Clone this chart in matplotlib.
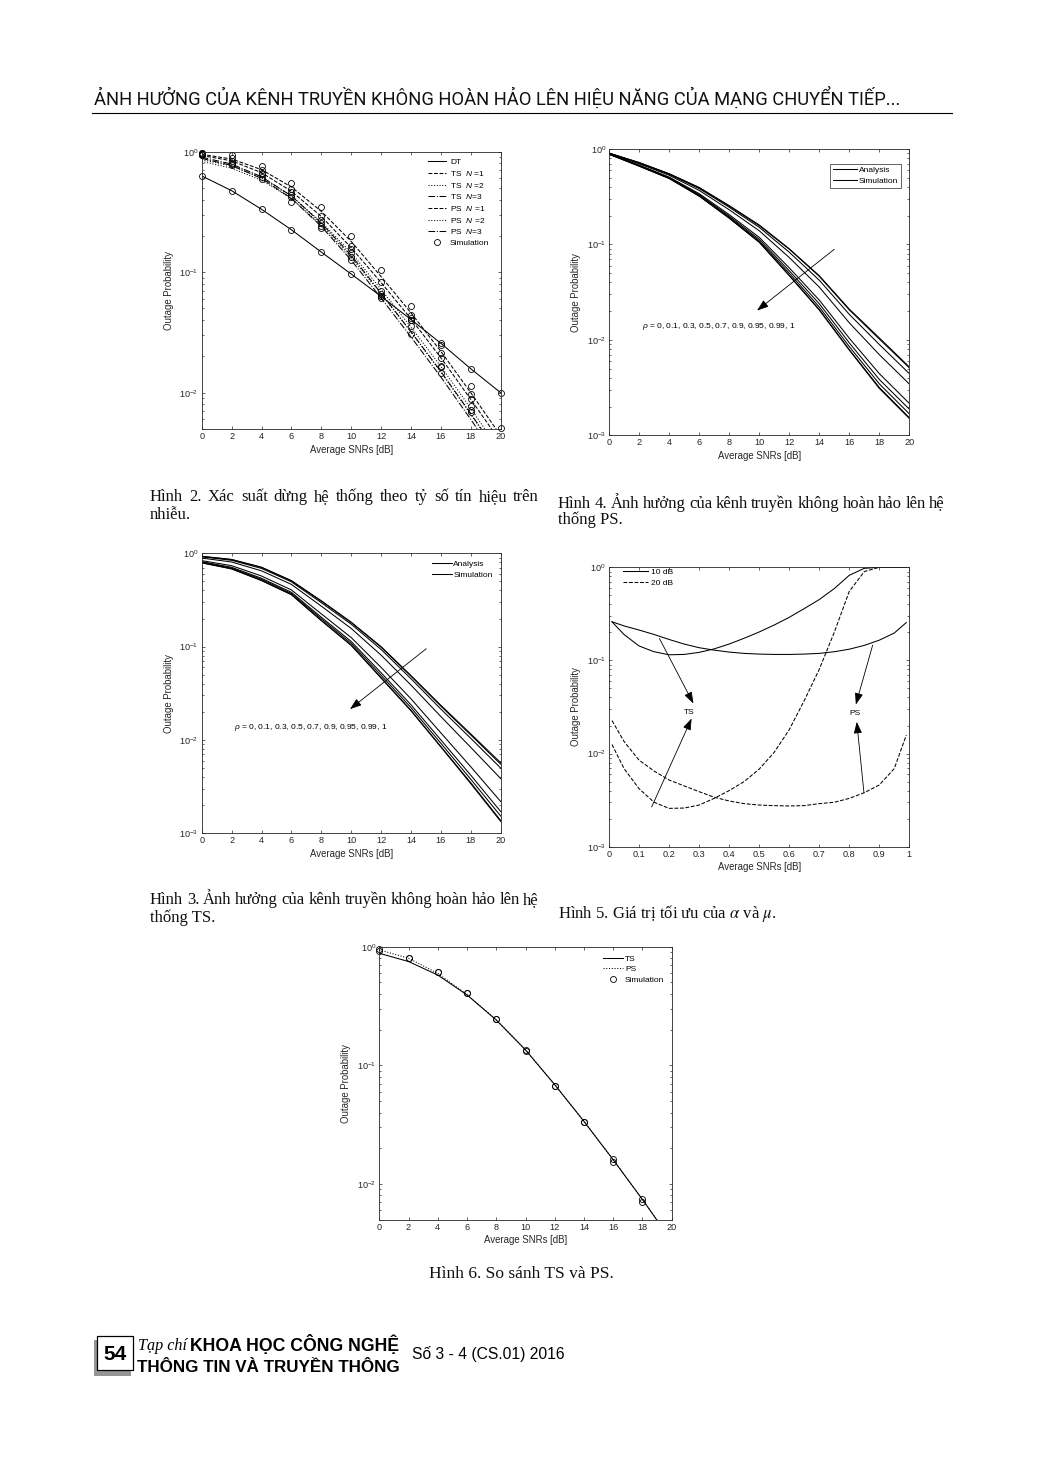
import matplotlib
matplotlib.use("Agg")
import matplotlib.pyplot as plt
import matplotlib.ticker as mticker
from matplotlib import font_manager
from matplotlib.font_manager import FontProperties
from matplotlib.ft2font import FT2Font
from matplotlib.patches import Rectangle
from matplotlib.lines import Line2D

W, H = 1047, 1460

# ---------------- values ----------------
snr = [0, 2, 4, 6, 8, 10, 12, 14, 16, 18, 20]
snr_sim = [0, 2, 4, 6, 8, 10, 12, 14, 16, 18]

# Hinh 2: outage vs SNR
dt_out = [0.63, 0.475, 0.333, 0.225, 0.147, 0.0966, 0.063, 0.0405, 0.0257, 0.0158, 0.010]
ts1_out = [0.95, 0.87, 0.71, 0.51, 0.32, 0.18, 0.092, 0.046, 0.022, 0.0100, 0.0044]
ts2_out = [0.86, 0.76, 0.61, 0.43, 0.26, 0.145, 0.072, 0.035, 0.0165, 0.0074, 0.0032]
ts3_out = [0.90, 0.79, 0.62, 0.43, 0.255, 0.138, 0.067, 0.032, 0.0150, 0.0067, 0.0029]
ps1_out = [0.93, 0.84, 0.67, 0.47, 0.29, 0.16, 0.082, 0.041, 0.0195, 0.0088, 0.0039]
ps2_out = [0.83, 0.73, 0.58, 0.41, 0.245, 0.133, 0.066, 0.032, 0.0148, 0.0066, 0.0029]
ps3_out = [0.88, 0.77, 0.60, 0.41, 0.24, 0.126, 0.061, 0.029, 0.0135, 0.0060, 0.0026]
sim_ts1 = [0.98, 0.93, 0.76, 0.55, 0.35, 0.198, 0.104, 0.052, 0.025, 0.0113, 0.0051]
sim_ps1 = [0.97, 0.88, 0.705, 0.49, 0.29, 0.166, 0.083, 0.044, 0.0215, 0.0097]
sim_ts2 = [0.96, 0.84, 0.67, 0.46, 0.27, 0.155, 0.070, 0.042, 0.0195, 0.0088]
sim_ts3 = [0.95, 0.81, 0.65, 0.44, 0.255, 0.145, 0.066, 0.040, 0.0166, 0.0078]
sim_ps2 = [0.94, 0.79, 0.62, 0.42, 0.242, 0.135, 0.064, 0.036, 0.0164, 0.0072]
sim_ps3 = [0.93, 0.78, 0.59, 0.385, 0.232, 0.127, 0.061, 0.031, 0.0146, 0.0069]

# Hinh 4: PS, rho = 0 ... 1
ps_rho_0 = [0.905, 0.72, 0.55, 0.395, 0.255, 0.16, 0.09, 0.047, 0.021, 0.0105, 0.0052]
ps_rho_01 = [0.904, 0.719, 0.549, 0.392, 0.251, 0.157, 0.089, 0.0463, 0.0206, 0.0102, 0.0051]
ps_rho_03 = [0.90, 0.712, 0.542, 0.384, 0.245, 0.151, 0.0828, 0.0422, 0.0185, 0.00895, 0.00443]
ps_rho_05 = [0.896, 0.70, 0.53, 0.368, 0.2305, 0.139, 0.0728, 0.0357, 0.0151, 0.0070, 0.00345]
ps_rho_07 = [0.886, 0.678, 0.507, 0.340, 0.205, 0.1185, 0.0568, 0.0261, 0.0104, 0.00443, 0.00216]
ps_rho_09 = [0.883, 0.671, 0.50, 0.332, 0.198, 0.113, 0.0529, 0.0239, 0.0093, 0.00385, 0.00188]
ps_rho_095 = [0.881, 0.666, 0.495, 0.326, 0.193, 0.1088, 0.0499, 0.0221, 0.0085, 0.00346, 0.00168]
ps_rho_099 = [0.880, 0.661, 0.491, 0.321, 0.189, 0.106, 0.0475, 0.0208, 0.0079, 0.00317, 0.00153]
ps_rho_1 = [0.88, 0.66, 0.49, 0.32, 0.188, 0.105, 0.047, 0.0205, 0.0078, 0.0031, 0.0015]

# Hinh 3: TS, rho = 0 ... 1
ts_rho_0 = [0.93, 0.86, 0.71, 0.51, 0.31, 0.183, 0.10, 0.049, 0.0235, 0.0116, 0.0057]
ts_rho_01 = [0.927, 0.856, 0.705, 0.506, 0.307, 0.181, 0.0985, 0.0482, 0.023, 0.0113, 0.0055]
ts_rho_03 = [0.916, 0.841, 0.689, 0.495, 0.296, 0.174, 0.0933, 0.0453, 0.0214, 0.0104, 0.0050]
ts_rho_05 = [0.889, 0.807, 0.649, 0.4645, 0.2716, 0.1566, 0.0811, 0.0387, 0.0178, 0.00832, 0.00386]
ts_rho_07 = [0.835, 0.737, 0.571, 0.405, 0.2244, 0.1252, 0.0599, 0.0276, 0.0119, 0.00516, 0.00219]
ts_rho_09 = [0.813, 0.708, 0.540, 0.382, 0.2065, 0.1136, 0.0525, 0.0238, 0.0100, 0.00419, 0.00171]
ts_rho_095 = [0.802, 0.695, 0.526, 0.371, 0.1987, 0.1085, 0.0493, 0.0222, 0.0092, 0.00379, 0.00153]
ts_rho_099 = [0.793, 0.683, 0.513, 0.362, 0.191, 0.104, 0.0466, 0.0208, 0.0085, 0.00348, 0.00137]
ts_rho_1 = [0.79, 0.68, 0.51, 0.36, 0.19, 0.103, 0.046, 0.0205, 0.0084, 0.0034, 0.00134]

rho_text = r"$\rho$ = 0, 0.1, 0.3, 0.5, 0.7, 0.9, 0.95, 0.99, 1"

# Hinh 5: optimum alpha / mu
alpha_pts = [0.01, 0.05, 0.1, 0.15, 0.2, 0.25, 0.3, 0.35, 0.4, 0.45, 0.5,
             0.55, 0.6, 0.65, 0.7, 0.75, 0.8, 0.85, 0.9, 0.95, 0.99]
ts_10db = [0.26, 0.19, 0.143, 0.124, 0.115, 0.116, 0.122, 0.133, 0.15, 0.173, 0.202,
           0.24, 0.29, 0.36, 0.45, 0.59, 0.82, 0.975, 1.0, 1.0, 1.0]
ps_10db = [0.26, 0.235, 0.212, 0.19, 0.168, 0.15, 0.137, 0.129, 0.123, 0.119, 0.117,
           0.116, 0.116, 0.117, 0.119, 0.124, 0.132, 0.145, 0.165, 0.197, 0.255]
ts_20db = [0.0125, 0.0069, 0.0042, 0.0030, 0.00258, 0.0026, 0.0028, 0.0033, 0.0040, 0.0050, 0.0068,
           0.0103, 0.0180, 0.037, 0.080, 0.20, 0.55, 0.90, 1.0, 1.0, 1.0]
ps_20db = [0.0226, 0.0135, 0.0085, 0.0065, 0.0052, 0.0045, 0.0039, 0.0034, 0.0031, 0.0029, 0.0028,
           0.00276, 0.00274, 0.00276, 0.0029, 0.0030, 0.0033, 0.0038, 0.0046, 0.0069, 0.0158]
alpha_ticks = [0, 0.1, 0.2, 0.3, 0.4, 0.5, 0.6, 0.7, 0.8, 0.9, 1]
alpha_ticklabels = ["0", "0.1", "0.2", "0.3", "0.4", "0.5", "0.6", "0.7", "0.8", "0.9", "1"]

# Hinh 6: TS vs PS
ts_cmp = [0.88, 0.75, 0.577, 0.392, 0.241, 0.135, 0.0687, 0.0337, 0.016, 0.0074, 0.0033]
ps_cmp = [0.94, 0.80, 0.596, 0.395, 0.242, 0.135, 0.0687, 0.0337, 0.016, 0.0074, 0.0033]
sim_ts_cmp = [0.955, 0.81, 0.615, 0.41, 0.245, 0.133, 0.067, 0.033, 0.0162, 0.0075]
sim_ps_cmp = [0.92, 0.80, 0.61, 0.405, 0.244, 0.134, 0.0675, 0.0335, 0.0152, 0.0071]

# page text
header = "ẢNH HƯỞNG CỦA KÊNH TRUYỀN KHÔNG HOÀN HẢO LÊN HIỆU NĂNG CỦA MẠNG CHUYỂN TIẾP..."
cap2 = ["Hình 2. Xác suất dừng hệ thống theo tỷ số tín hiệu trên", "nhiễu."]
cap4 = ["Hình 4. Ảnh hưởng của kênh truyền không hoàn hảo lên hệ", "thống PS."]
cap3 = ["Hình 3. Ảnh hưởng của kênh truyền không hoàn hảo lên hệ", "thống TS."]
cap5 = r"Hình 5. Giá trị tối ưu của $\alpha$ và $\mu$."
cap6 = "Hình 6. So sánh TS và PS."

# ---------------- style ----------------
INK = "#262626"
plt.rcParams.update({
    "font.family": ["Liberation Sans", "DejaVu Sans"],
    "font.size": 6.5,
    "mathtext.fontset": "custom",
    "mathtext.rm": "Liberation Sans",
    "mathtext.it": "Liberation Sans:italic",
    "mathtext.bf": "Liberation Sans:bold",
    "axes.linewidth": 0.6,
    "axes.edgecolor": INK,
    "axes.labelcolor": INK,
    "xtick.color": INK,
    "ytick.color": INK,
})
SERIF = ["Liberation Serif", "DejaVu Serif"]

fig = plt.figure(figsize=(W / 100, H / 100), dpi=100)
renderer = fig.canvas.get_renderer()


def fx(x):
    return x / W


def fy(y):
    return 1 - y / H


def make_axes(box, xlim, ylim, xticks, xticklabels=None):
    l, t, r, b = box
    ax = fig.add_axes([l / W, 1 - b / H, (r - l) / W, (b - t) / H])
    ax.set_yscale("log")
    ax.set_xlim(*xlim)
    ax.set_ylim(*ylim)
    ax.set_xticks(xticks)
    if xticklabels is not None:
        ax.set_xticklabels(xticklabels)
    ax.yaxis.set_major_locator(mticker.LogLocator(base=10))
    ax.yaxis.set_minor_locator(mticker.LogLocator(base=10, subs=(2, 3, 4, 5, 6, 7, 8, 9), numticks=12))
    ax.yaxis.set_minor_formatter(mticker.NullFormatter())
    ax.tick_params(which="both", direction="in", top=True, right=True, width=0.5,
                   labelsize=6.6, pad=2.2)
    ax.tick_params(which="major", length=2.4)
    ax.tick_params(which="minor", length=1.4)
    ax.set_xlabel("Average SNRs [dB]", fontsize=6.9, labelpad=2.5)
    ax.set_ylabel("Outage Probability", fontsize=6.9, labelpad=4)
    return ax


LW = 0.75
MK = dict(marker="o", ls="none", mfc="none", mec="k", ms=4.3, mew=0.6, clip_on=False)
ARROW = dict(arrowstyle="-|>,head_length=0.7,head_width=0.25", color="k", lw=0.6,
             shrinkA=0, shrinkB=0, mutation_scale=10)
snr_ticks = [0, 2, 4, 6, 8, 10, 12, 14, 16, 18, 20]

# ---------------- Hinh 2 ----------------
ax2 = make_axes((201.7, 151.7, 500.7, 429), (0, 20), (0.005, 1), snr_ticks)
ax2.plot(snr, dt_out, "-", color="k", lw=LW, label="DT")
ax2.plot(snr, ts1_out, "--", color="k", lw=LW, label="TS  $N$ =1")
ax2.plot(snr, ts2_out, ":", color="k", lw=LW, label="TS  $N$ =2")
ax2.plot(snr, ts3_out, "-.", color="k", lw=LW, label="TS  $N$=3")
ax2.plot(snr, ps1_out, "--", color="k", lw=LW, label="PS  $N$ =1")
ax2.plot(snr, ps2_out, ":", color="k", lw=LW, label="PS  $N$ =2")
ax2.plot(snr, ps3_out, "-.", color="k", lw=LW, label="PS  $N$=3")
ax2.plot(snr, dt_out, label="Simulation", **MK)
ax2.plot(snr, sim_ts1, **MK)
for sim in (sim_ps1, sim_ts2, sim_ts3, sim_ps2, sim_ps3):
    ax2.plot(snr_sim, sim, **MK)
ax2.legend(loc="upper left", bbox_to_anchor=((428 - 201.7) / 299, 1 - (158.5 - 151.7) / 277.3),
           frameon=False, fontsize=6.0, handlelength=2.2, handletextpad=0.45,
           labelspacing=0.32, borderpad=0, borderaxespad=0)

# ---------------- Hinh 4 ----------------
ax4 = make_axes((609.3, 149, 909.3, 435.3), (0, 20), (1e-3, 1), snr_ticks)
for curve in (ps_rho_0, ps_rho_01, ps_rho_03, ps_rho_05, ps_rho_07,
              ps_rho_09, ps_rho_095, ps_rho_099, ps_rho_1):
    ax4.plot(snr, curve, "-", color="k", lw=LW)
h_a = Line2D([], [], color="k", lw=LW)
h_s = Line2D([], [], color="k", lw=LW)
leg4 = ax4.legend([h_a, h_s], ["Analysis", "Simulation"], loc="upper right",
                  bbox_to_anchor=(1 - (909.3 - 900.7) / 300, 1 - (164 - 149) / 286.3),
                  frameon=True, fancybox=False, edgecolor=INK, framealpha=1, fontsize=6.0,
                  handlelength=2.9, handletextpad=0.25, labelspacing=0.35,
                  borderpad=0.3, borderaxespad=0)
leg4.get_frame().set_linewidth(0.5)
ax4.annotate("", xy=(9.85, 0.0203), xytext=(15.0, 0.089), arrowprops=ARROW)
ax4.text(2.15, 0.0137, rho_text, fontsize=6.0, va="center", ha="left")

# ---------------- Hinh 3 ----------------
ax3 = make_axes((201.7, 553.3, 500.7, 833.3), (0, 20), (1e-3, 1), snr_ticks)
for curve in (ts_rho_0, ts_rho_01, ts_rho_03, ts_rho_05, ts_rho_07,
              ts_rho_09, ts_rho_095, ts_rho_099, ts_rho_1):
    ax3.plot(snr, curve, "-", color="k", lw=LW)
ax3.legend([Line2D([], [], color="k", lw=LW), Line2D([], [], color="k", lw=LW)],
           ["Analysis", "Simulation"], loc="upper left",
           bbox_to_anchor=((431.7 - 201.7) / 299, 1 - (560 - 553.3) / 280),
           frameon=False, fontsize=6.0, handlelength=2.4, handletextpad=0.2,
           labelspacing=0.35, borderpad=0, borderaxespad=0)
ax3.annotate("", xy=(9.92, 0.0214), xytext=(15.02, 0.095), arrowprops=ARROW)
ax3.text(2.16, 0.0137, rho_text, fontsize=6.0, va="center", ha="left")

# ---------------- Hinh 5 ----------------
ax5 = make_axes((609, 567.3, 909.3, 846.7), (0, 1), (1e-3, 1), alpha_ticks, alpha_ticklabels)
ax5.plot(alpha_pts, ts_10db, "-", color="k", lw=LW, label="10 dB")
ax5.plot(alpha_pts, ts_20db, "--", color="k", lw=LW, label="20 dB")
ax5.plot(alpha_pts, ps_10db, "-", color="k", lw=LW)
ax5.plot(alpha_pts, ps_20db, "--", color="k", lw=LW)
ax5.legend(loc="upper left", bbox_to_anchor=((623 - 609) / 300.3, 1 - (568.5 - 567.3) / 279.4),
           frameon=False, fontsize=6.0, handlelength=3.0, handletextpad=0.35,
           labelspacing=0.35, borderpad=0, borderaxespad=0)
ax5.annotate("", xy=(0.281, 0.0345), xytext=(0.168, 0.172), arrowprops=ARROW)
ax5.annotate("", xy=(0.275, 0.0238), xytext=(0.142, 0.00267), arrowprops=ARROW)
ax5.annotate("", xy=(0.822, 0.0336), xytext=(0.878, 0.146), arrowprops=ARROW)
ax5.annotate("", xy=(0.825, 0.0219), xytext=(0.849, 0.0038), arrowprops=ARROW)
ax5.text(0.267, 0.0276, "TS", fontsize=6.0, ha="center", va="center")
ax5.text(0.819, 0.027, "PS", fontsize=6.0, ha="center", va="center")

# ---------------- Hinh 6 ----------------
ax6 = make_axes((379.3, 946.7, 671.7, 1219.7), (0, 20), (0.005, 1), snr_ticks)
ax6.plot(snr, ts_cmp, "-", color="k", lw=LW, label="TS")
ax6.plot(snr, ps_cmp, ":", color="k", lw=LW, label="PS")
ax6.plot(snr_sim, sim_ts_cmp, label="Simulation", **MK)
ax6.plot(snr_sim, sim_ps_cmp, **MK)
ax6.legend(loc="upper left", bbox_to_anchor=((603 - 379.3) / 292.4, 1 - (955 - 946.7) / 273),
           frameon=False, fontsize=6.0, handlelength=2.4, handletextpad=0.25,
           labelspacing=0.32, borderpad=0, borderaxespad=0)


# ---------------- page text ----------------
def pick_font(cands, text):
    for fam in cands:
        try:
            path = font_manager.findfont(FontProperties(family=fam), fallback_to_default=False)
        except ValueError:
            continue
        cmap = FT2Font(path).get_charmap()
        if all(ord(c) in cmap for c in text if not c.isspace()):
            return fam
    return "DejaVu Sans"


def fit_width(t, target):
    w = t.get_window_extent(renderer).width
    t.set_fontsize(t.get_fontsize() * target / w)


def justified(line, x0, x1, ybase, **kw):
    words = line.split(" ")
    texts = [fig.text(0, 0, w, ha="left", va="baseline", **kw) for w in words]
    widths = [t.get_window_extent(renderer).width for t in texts]
    gap = (x1 - x0 - sum(widths)) / max(len(words) - 1, 1)
    x = x0
    for t, w in zip(texts, widths):
        t.set_position((fx(x), fy(ybase)))
        x += w + gap


head_font = pick_font(["Liberation Sans Narrow", "Roboto", "Liberation Sans"], header)
th = fig.text(fx(94), fy(105), header, family=[head_font, "DejaVu Sans"], fontsize=14,
              ha="left", va="baseline", color="#111111")
fit_width(th, 807)
fig.add_artist(Line2D([fx(92), fx(952)], [fy(113), fy(113)], transform=fig.transFigure,
                      color="k", lw=0.8))

CAP = dict(family=SERIF, fontsize=12, color="#111111")
justified(cap2[0], 150, 539, 501, **CAP)
fig.text(fx(150), fy(519), cap2[1], ha="left", va="baseline", **CAP)
justified(cap4[0], 558, 945, 507.5, **CAP)
fig.text(fx(558), fy(524.5), cap4[1], ha="left", va="baseline", **CAP)
justified(cap3[0], 150, 539, 904.5, **CAP)
fig.text(fx(150), fy(922), cap3[1], ha="left", va="baseline", **CAP)
fig.text(fx(558), fy(918), cap5, ha="left", va="baseline", math_fontfamily="stix", **CAP)
fig.text(fx(521.5), fy(1278), cap6, ha="center", va="baseline", family=SERIF,
         fontsize=12.5, color="#111111")

# footer
fig.add_artist(Rectangle((fx(93.5), fy(1375.5)), 37.5 / W, 36 / H, transform=fig.transFigure,
                         facecolor="#707070", edgecolor="none", alpha=0.75))
fig.add_artist(Rectangle((fx(96.7), fy(1370)), 36.6 / W, 34 / H, transform=fig.transFigure,
                         facecolor="white", edgecolor="black", lw=0.9))
fig.text(fx(115), fy(1359.5), "54", ha="center", va="baseline", fontsize=15, fontweight="bold")
tc = fig.text(fx(138.5), fy(1350.5), "Tạp chí", ha="left", va="baseline", family=SERIF,
              style="italic", fontsize=11)
fit_width(tc, 49)
t1 = fig.text(fx(190), fy(1350.7), "KHOA HỌC CÔNG NGHỆ", ha="left", va="baseline",
              fontsize=12.5, fontweight="bold")
fit_width(t1, 209)
t2 = fig.text(fx(137), fy(1372.3), "THÔNG TIN VÀ TRUYỀN THÔNG", ha="left", va="baseline",
              fontsize=12.3, fontweight="bold")
fit_width(t2, 263)
t3 = fig.text(fx(412), fy(1359.3), "Số 3 - 4 (CS.01) 2016", ha="left", va="baseline",
              fontsize=11.2)
fit_width(t3, 151)

fig.savefig("out.png", dpi=100, facecolor="white")
